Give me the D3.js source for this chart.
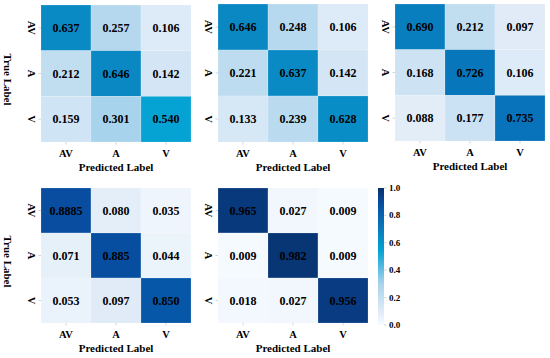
<!DOCTYPE html>
<html>
<head>
<meta charset="utf-8">
<script src="https://cdn.jsdelivr.net/npm/d3@7"></script>
<style>
  html, body { margin: 0; padding: 0; background: #fff; }
  svg { display: block; }
  text { font-family: "Liberation Serif", "Times New Roman", serif; font-weight: bold; fill: #000; }
</style>
</head>
<body>
<svg id="chart" width="550" height="358"></svg>
<script>
const categories = ["AV", "A", "V"];
const matrix1 = [[0.637, 0.257, 0.106], [0.212, 0.646, 0.142], [0.159, 0.301, 0.540]];
const matrix2 = [[0.646, 0.248, 0.106], [0.221, 0.637, 0.142], [0.133, 0.239, 0.628]];
const matrix3 = [[0.690, 0.212, 0.097], [0.168, 0.726, 0.106], [0.088, 0.177, 0.735]];
const matrix4 = [[0.8885, 0.080, 0.035], [0.071, 0.885, 0.044], [0.053, 0.097, 0.850]];
const matrix5 = [[0.965, 0.027, 0.009], [0.009, 0.982, 0.009], [0.018, 0.027, 0.956]];
const colorbarTicks = [0.0, 0.2, 0.4, 0.6, 0.8, 1.0];
const xTitle = "Predicted Label";
const yTitle = "True Label";

const svg = d3.select("#chart");

const color = d3.scaleLinear()
  .domain([0, 0.1, 0.3, 0.54, 0.65, 0.75, 0.85, 0.9, 1.0])
  .range(["#f7fbff", "#dfebf7", "#a9d3ec", "#05a3d4", "#0987c3", "#0870b8", "#0657a8", "#084a9c", "#08306b"])
  .clamp(true);

const fmt = v => {
  const s = String(v);
  const dec = s.split(".")[1];
  return dec && dec.length > 3 ? s : v.toFixed(3);
};

const panels = [
  { m: matrix1, x0: 41, x1: 191, y0: 5, y1: 142, yTitle: true },
  { m: matrix2, x0: 218, x1: 368, y0: 4, y1: 142, yTitle: false },
  { m: matrix3, x0: 395, x1: 545, y0: 4, y1: 141, yTitle: false },
  { m: matrix4, x0: 41, x1: 191, y0: 188, y1: 323, yTitle: true },
  { m: matrix5, x0: 218, x1: 368, y0: 188, y1: 323, yTitle: false }
];

panels.forEach(p => {
  const x = d3.scaleBand().domain(categories).range([p.x0, p.x1]);
  const y = d3.scaleBand().domain(categories).range([p.y0, p.y1]);
  const g = svg.append("g");
  const cells = [];
  p.m.forEach((row, i) => row.forEach((v, j) => cells.push({ r: categories[i], c: categories[j], v })));

  g.selectAll("rect.cell").data(cells).join("rect")
    .attr("class", "cell")
    .attr("x", d => x(d.c))
    .attr("y", d => y(d.r))
    .attr("width", x.bandwidth())
    .attr("height", y.bandwidth())
    .attr("fill", d => color(d.v))
    .attr("stroke", "#ffffff")
    .attr("stroke-opacity", 0.35)
    .attr("stroke-width", 0.5);

  g.selectAll("text.val").data(cells).join("text")
    .attr("class", "val")
    .attr("x", d => x(d.c) + x.bandwidth() / 2)
    .attr("y", d => y(d.r) + y.bandwidth() / 2)
    .attr("text-anchor", "middle")
    .attr("dominant-baseline", "central")
    .attr("font-size", 12)
    .text(d => fmt(d.v));

  // x tick marks and labels
  categories.forEach(c => {
    const cx = x(c) + x.bandwidth() / 2;
    g.append("line").attr("x1", cx).attr("x2", cx).attr("y1", p.y1).attr("y2", p.y1 + 2.5)
      .attr("stroke", "#bbbbbb").attr("stroke-width", 0.6);
    g.append("text").attr("x", cx).attr("y", p.y1 + 11)
      .attr("text-anchor", "middle").attr("dominant-baseline", "central")
      .attr("font-size", 10.5).text(c);
  });
  // y tick labels rotated
  categories.forEach(c => {
    const cy = y(c) + y.bandwidth() / 2;
    g.append("line").attr("x1", p.x0 - 2.5).attr("x2", p.x0).attr("y1", cy).attr("y2", cy)
      .attr("stroke", "#bbbbbb").attr("stroke-width", 0.6);
    g.append("text")
      .attr("transform", `translate(${p.x0 - 10},${cy}) rotate(90)`)
      .attr("text-anchor", "middle").attr("dominant-baseline", "central")
      .attr("font-size", 10.5).text(c);
  });
  g.append("text").attr("x", (p.x0 + p.x1) / 2).attr("y", p.y1 + 25)
    .attr("text-anchor", "middle").attr("dominant-baseline", "central")
    .attr("font-size", 11).text(xTitle);
  if (p.yTitle) {
    g.append("text")
      .attr("transform", `translate(8,${(p.y0 + p.y1) / 2 + 6}) rotate(90)`)
      .attr("text-anchor", "middle").attr("dominant-baseline", "central")
      .attr("font-size", 11).text(yTitle);
  }
});

// colorbar
const cb = { x: 378, w: 6, y0: 188, y1: 325 };
const cbScale = d3.scaleLinear().domain([0, 1]).range([cb.y1, cb.y0]);
const defs = svg.append("defs");
const grad = defs.append("linearGradient").attr("id", "cbgrad")
  .attr("x1", 0).attr("y1", 1).attr("x2", 0).attr("y2", 0);
d3.range(0, 1.0001, 0.02).forEach(t => {
  grad.append("stop").attr("offset", t).attr("stop-color", color(t));
});
svg.append("rect").attr("x", cb.x).attr("y", cb.y0).attr("width", cb.w).attr("height", cb.y1 - cb.y0)
  .attr("fill", "url(#cbgrad)");
const cbAxis = svg.append("g");
colorbarTicks.forEach(t => {
  cbAxis.append("line").attr("x1", cb.x + cb.w).attr("x2", cb.x + cb.w + 2.5)
    .attr("y1", cbScale(t)).attr("y2", cbScale(t)).attr("stroke", "#bbbbbb").attr("stroke-width", 0.6);
  cbAxis.append("text").attr("x", cb.x + cb.w + 5).attr("y", cbScale(t))
    .attr("dominant-baseline", "central").attr("font-size", 9).text(t.toFixed(1));
});
</script>
</body>
</html>
